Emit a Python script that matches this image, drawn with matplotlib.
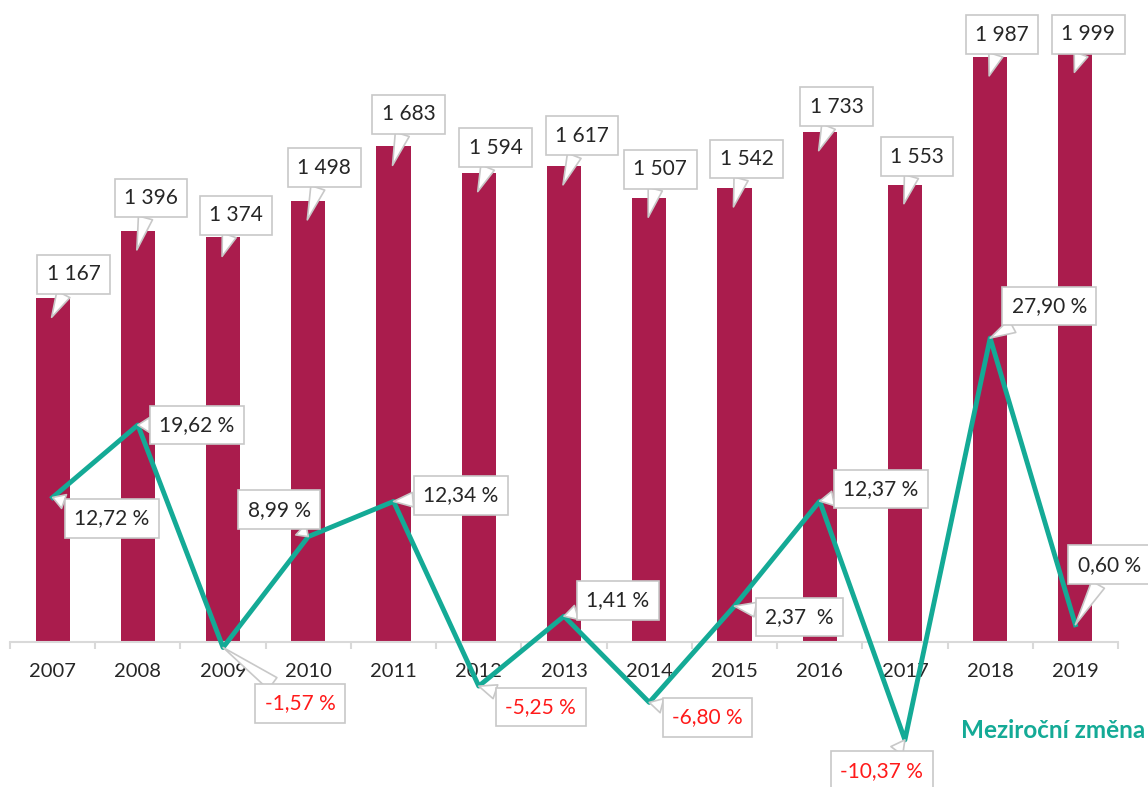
import matplotlib.pyplot as plt
import matplotlib.transforms as mtransforms

years = ['2007', '2008', '2009', '2010', '2011', '2012', '2013',
         '2014', '2015', '2016', '2017', '2018', '2019']
counts = [1167, 1396, 1374, 1498, 1683, 1594, 1617, 1507, 1542, 1733, 1553, 1987, 1999]
change = [12.72, 19.62, -1.57, 8.99, 12.34, -5.25, 1.41, -6.80, 2.37, 12.37, -10.37, 27.90, 0.60]
change_labels = ['12,72 %', '19,62 %', '-1,57 %', '8,99 %', '12,34 %', '-5,25 %', '1,41 %',
                 '-6,80 %', '2,37  %', '12,37 %', '-10,37 %', '27,90 %', '0,60 %']

bar_color = '#AA1C4D'
line_color = '#14AA96'
plt.rcParams['font.family'] = ['Lato', 'DejaVu Sans']

# callout offsets in pixels (box centre relative to the point)
bar_off = [(21, 24), (13, 33), (13, 22), (16, 33), (15, 32), (17, 25), (18, 30),
           (11, 29), (12, 29), (17, 25), (12, 28), (12, 22), (13, 19)]
line_off = [(59, -21), (59, 0), (77, -56), (-29, 27), (67, 6), (62, -21), (54, 16),
            (58, -15), (65, -11), (61, 12), (-23, -31), (59, 32), (34, 60)]

fig = plt.figure(figsize=(11.48, 7.87), dpi=100)
ax = fig.add_axes([10 / 1148, 145 / 787, 1108 / 1148, 642 / 787])
x = list(range(len(years)))
ax.bar(x, counts, width=0.4, color=bar_color, zorder=2)
ax.set_xlim(-0.5, 12.5)
ax.set_ylim(0, 2180)
ax.set_yticks([])
for s in ['top', 'right', 'left']:
    ax.spines[s].set_visible(False)
ax.spines['bottom'].set_color('#d9d9d9')
ax.spines['bottom'].set_linewidth(1.5)
ax.set_xticks(x)
ax.set_xticklabels(years, fontsize=14.5, color='#262626')
ax.set_xticks([i - 0.5 for i in range(len(years) + 1)], minor=True)
ax.tick_params(axis='x', which='major', length=0, pad=15)
ax.tick_params(axis='x', which='minor', length=5, color='#d9d9d9', width=1.5)

box = dict(boxstyle='square,pad=0.45', fc='white', ec='#c8c8c8', lw=1.2)
arrow = dict(arrowstyle='wedge,tail_width=0.7,shrink_factor=0.5', fc='white', ec='#c8c8c8',
             lw=1.2, shrinkA=0, shrinkB=0)

# bar callouts point a little inside the bar
tip = ax.transData + mtransforms.ScaledTranslation(-1 / 100, -19 / 100, fig.dpi_scale_trans)
for i, v in enumerate(counts):
    txt = f'{v:,}'.replace(',', ' ')
    dx, dy = bar_off[i]
    ax.annotate(txt, (i, v), xycoords=tip, xytext=(dx + 1, dy + 19), textcoords='offset pixels',
                ha='center', va='center', fontsize=15, color='#262626',
                bbox=box, arrowprops=arrow, zorder=5)

ax2 = ax.twinx()
ax2.set_ylim(-1.048, 60.1)
ax2.axis('off')
ax2.plot(x, change, color=line_color, lw=3.5, clip_on=False, zorder=3)
for i, v in enumerate(change):
    col = '#FF1A1A' if v < 0 else '#262626'
    ax2.annotate(change_labels[i], (i, v), xytext=line_off[i], textcoords='offset pixels',
                 ha='center', va='center', fontsize=15, color=col,
                 bbox=box, arrowprops=arrow, zorder=5, annotation_clip=False)

fig.text(1145 / 1148, 1 - 731 / 787, 'Meziroční změna', ha='right', va='center',
         fontsize=17.5, fontweight='bold', color=line_color)

fig.savefig('out.png', dpi=100)
